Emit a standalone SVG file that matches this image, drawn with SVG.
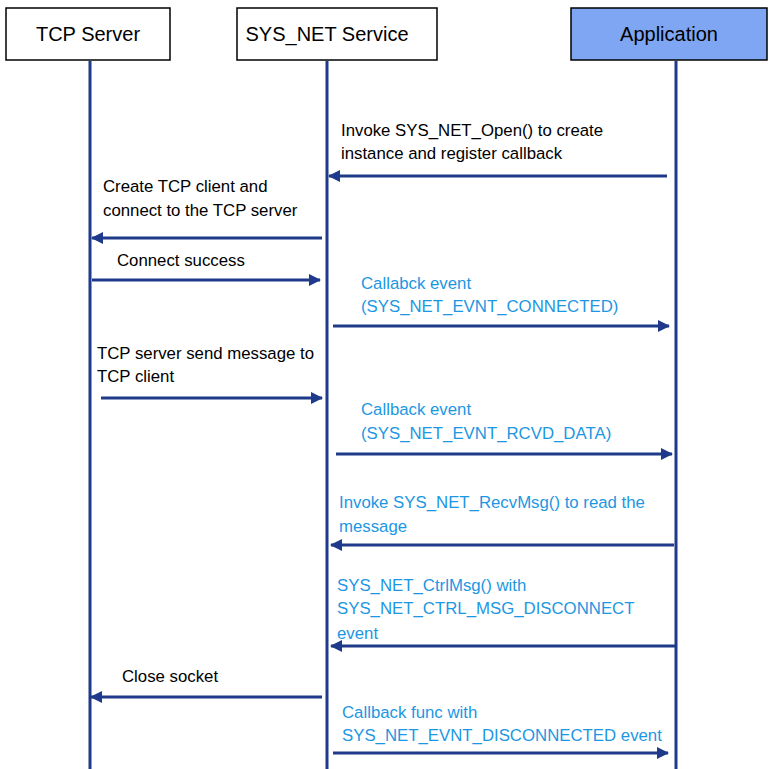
<svg xmlns="http://www.w3.org/2000/svg" width="781" height="769" viewBox="0 0 781 769">
<style>
.box{fill:#fff;stroke:#000;stroke-width:1.5}
.app{fill:#7ea6f2}
.hd{font-family:"Liberation Sans",Arial,sans-serif;font-size:20px;fill:#000;text-anchor:middle}
.life{stroke:#1f3a8a;stroke-width:3;fill:none}
.msg{stroke:#1f3a8a;stroke-width:3;fill:none}
.t{font-family:"Liberation Sans",Arial,sans-serif;font-size:16.8px;fill:#000}
.b{fill:#1c97e3}
</style>
<defs>
<marker id="ah" viewBox="0 0 12 12" refX="11" refY="6" markerWidth="12" markerHeight="12" markerUnits="userSpaceOnUse" orient="auto">
<path d="M0,0 L12,6 L0,12 Z" fill="#1f3a8a"/>
</marker>
</defs>
<g id="tcp-server">
<rect class="box" x="6" y="8" width="164" height="52"/>
<text class="hd" x="88" y="41">TCP Server</text>
<line class="life" x1="90" y1="61" x2="90" y2="769"/>
</g>
<g id="sys-net-service">
<rect class="box" x="237" y="8" width="200" height="52"/>
<text class="hd" x="327" y="41">SYS_NET Service</text>
<line class="life" x1="327" y1="61" x2="327" y2="769"/>
</g>
<g id="application">
<rect class="box app" x="571" y="8" width="196" height="52"/>
<text class="hd" x="669" y="41">Application</text>
<line class="life" x1="676" y1="61" x2="676" y2="769"/>
</g>
<g id="connectors">
<line class="msg" x1="667" y1="176" x2="329" y2="176" marker-end="url(#ah)"/>
<line class="msg" x1="322" y1="238" x2="92" y2="238" marker-end="url(#ah)"/>
<line class="msg" x1="92" y1="280" x2="320" y2="280" marker-end="url(#ah)"/>
<line class="msg" x1="333" y1="326" x2="669" y2="326" marker-end="url(#ah)"/>
<line class="msg" x1="101" y1="398" x2="322" y2="398" marker-end="url(#ah)"/>
<line class="msg" x1="336" y1="454" x2="672" y2="454" marker-end="url(#ah)"/>
<line class="msg" x1="674" y1="545" x2="331" y2="545" marker-end="url(#ah)"/>
<line class="msg" x1="676" y1="646" x2="331" y2="646" marker-end="url(#ah)"/>
<line class="msg" x1="322" y1="697" x2="91" y2="697" marker-end="url(#ah)"/>
<line class="msg" x1="333" y1="753" x2="668" y2="753" marker-end="url(#ah)"/>
</g>
<g id="labels">
<text class="t" x="341" y="136">Invoke SYS_NET_Open() to create</text>
<text class="t" x="341" y="159">instance and register callback</text>
<text class="t" x="103" y="192">Create TCP client and</text>
<text class="t" x="103" y="216">connect to the TCP server</text>
<text class="t" x="117" y="266">Connect success</text>
<text class="t b" x="361" y="289">Callabck event</text>
<text class="t b" x="361" y="312">(SYS_NET_EVNT_CONNECTED)</text>
<text class="t" x="97" y="359">TCP server send message to</text>
<text class="t" x="97" y="382">TCP client</text>
<text class="t b" x="361" y="415">Callback event</text>
<text class="t b" x="361" y="439">(SYS_NET_EVNT_RCVD_DATA)</text>
<text class="t b" x="339" y="508">Invoke SYS_NET_RecvMsg() to read the</text>
<text class="t b" x="339" y="532">message</text>
<text class="t b" x="337" y="591">SYS_NET_CtrlMsg() with</text>
<text class="t b" x="337" y="614">SYS_NET_CTRL_MSG_DISCONNECT</text>
<text class="t b" x="337" y="639">event</text>
<text class="t" x="122" y="682">Close socket</text>
<text class="t b" x="342" y="718">Callback func with</text>
<text class="t b" x="342" y="741">SYS_NET_EVNT_DISCONNECTED event</text>
</g>
</svg>
